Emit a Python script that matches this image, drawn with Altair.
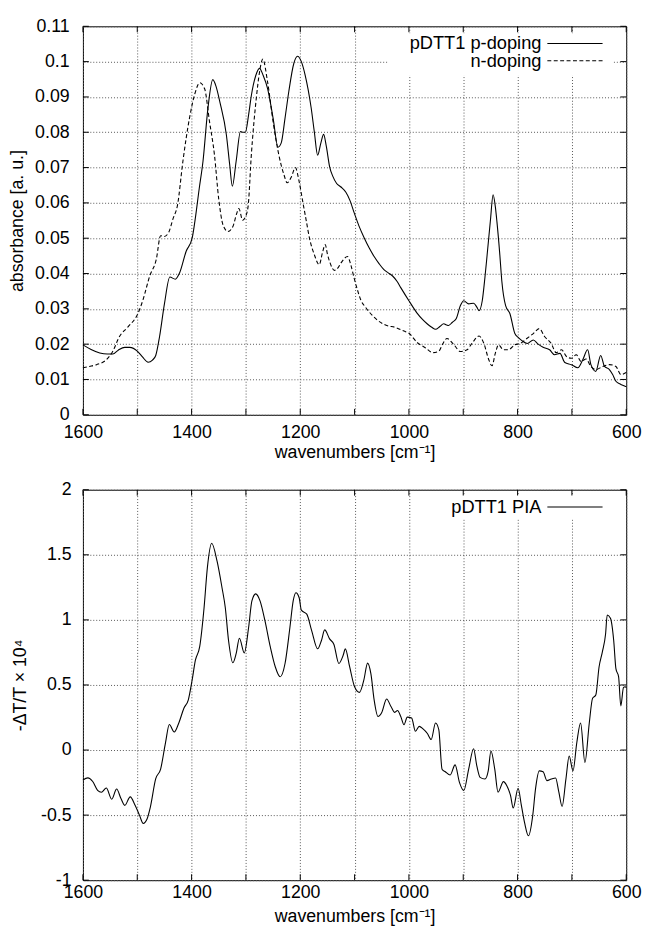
import altair as alt
import pandas as pd

# ---------------- data ----------------
wn_p = [1600, 1585, 1569, 1555, 1545, 1535, 1523, 1514, 1499, 1490, 1480, 1472, 1466, 1459, 1450,
        1440, 1430, 1422, 1410, 1399, 1394, 1386, 1379, 1370, 1361, 1355, 1348, 1336, 1330, 1325,
        1318, 1310, 1305, 1301, 1295, 1290, 1282, 1275, 1268, 1260, 1250, 1241, 1235, 1228, 1221,
        1212, 1205, 1198, 1191, 1180, 1174, 1168, 1162, 1157, 1152, 1146, 1140, 1133, 1125, 1116,
        1108, 1101, 1092, 1082, 1073, 1064, 1055, 1046, 1038, 1030, 1022, 1015, 1000, 985, 975,
        966, 958, 951, 943, 936, 930, 927, 920, 913, 905, 899, 890, 881, 875, 871,
        865, 860, 856, 850, 845, 841, 838, 833, 829, 822, 814, 805, 798, 792, 782,
        771, 762, 753, 741, 732, 722, 713, 701, 689, 680, 671, 665, 656, 647, 640,
        631, 625, 619, 610, 602, 600]
abs_p = [0.0198, 0.0185, 0.0175, 0.0172, 0.0172, 0.0183, 0.0191, 0.0191, 0.0179, 0.0163, 0.0149, 0.0155, 0.0168, 0.0221, 0.0314,
         0.0390, 0.0384, 0.0402, 0.0463, 0.0500, 0.0547, 0.0640, 0.0718, 0.0867, 0.0949, 0.0930, 0.0886, 0.0793, 0.0710, 0.0647,
         0.0718, 0.0802, 0.0800, 0.0800, 0.0850, 0.0904, 0.0960, 0.0981, 0.0960, 0.0923, 0.0840, 0.0758, 0.0770, 0.0840, 0.0916,
         0.0994, 0.1015, 0.1000, 0.0962, 0.0870, 0.0800, 0.0735, 0.0770, 0.0794, 0.0760, 0.0703, 0.0675, 0.0655, 0.0645, 0.0630,
         0.0605, 0.0573, 0.0535, 0.0500, 0.0472, 0.0448, 0.0428, 0.0411, 0.0402, 0.0393, 0.0378, 0.0360, 0.0323, 0.0288, 0.0270,
         0.0257, 0.0248, 0.0242, 0.0250, 0.0258, 0.0254, 0.0253, 0.0262, 0.0272, 0.0310, 0.0323, 0.0314, 0.0316, 0.0305, 0.0295,
         0.0323, 0.0390, 0.0453, 0.0550, 0.0623, 0.0590, 0.0547, 0.0460, 0.0379, 0.0309, 0.0286, 0.0230, 0.0218, 0.0210, 0.0202,
         0.0212, 0.0200, 0.0191, 0.0184, 0.0170, 0.0174, 0.0148, 0.0142, 0.0133, 0.0156, 0.0184, 0.0142, 0.0123, 0.0168, 0.0137,
         0.0128, 0.0114, 0.0095, 0.0086, 0.0081, 0.0080]

wn_n = [1600, 1588, 1575, 1557, 1545, 1533, 1517, 1499, 1490, 1477, 1465, 1457, 1450, 1442, 1434,
        1426, 1416, 1404, 1394, 1385, 1376, 1367, 1358, 1350, 1342, 1333, 1324, 1317, 1313, 1306,
        1301, 1296, 1290, 1281, 1275, 1269, 1260, 1250, 1240, 1230, 1224, 1216, 1209, 1202, 1195,
        1189, 1183, 1174, 1165, 1159, 1154, 1150, 1146, 1137, 1131, 1125, 1113, 1107, 1101, 1095,
        1088, 1080, 1073, 1058, 1043, 1024, 1009, 1000, 985, 970, 956, 945, 938, 930, 917,
        905, 893, 884, 871, 862, 853, 847, 841, 835, 826, 817, 805, 795, 783, 771,
        760, 750, 738, 729, 719, 710, 701, 692, 683, 674, 665, 656, 643, 631, 619,
        610, 601, 600]
abs_n = [0.0133, 0.0137, 0.0142, 0.0156, 0.0180, 0.0221, 0.0249, 0.0286, 0.0323, 0.0393, 0.0440, 0.0507, 0.0505, 0.0517, 0.0556,
         0.0593, 0.0718, 0.0839, 0.0909, 0.0940, 0.0923, 0.0830, 0.0737, 0.0610, 0.0537, 0.0519, 0.0533, 0.0570, 0.0584, 0.0551,
         0.0560, 0.0590, 0.0737, 0.0895, 0.0970, 0.1007, 0.0941, 0.0830, 0.0740, 0.0680, 0.0657, 0.0675, 0.0700, 0.0660, 0.0600,
         0.0550, 0.0500, 0.0453, 0.0425, 0.0460, 0.0482, 0.0455, 0.0434, 0.0409, 0.0415, 0.0430, 0.0448, 0.0425, 0.0388, 0.0355,
         0.0323, 0.0305, 0.0291, 0.0268, 0.0254, 0.0247, 0.0237, 0.0231, 0.0205, 0.0190, 0.0176, 0.0180, 0.0200, 0.0216, 0.0198,
         0.0179, 0.0184, 0.0202, 0.0223, 0.0202, 0.0156, 0.0139, 0.0174, 0.0198, 0.0184, 0.0184, 0.0198, 0.0202, 0.0216, 0.0230,
         0.0244, 0.0221, 0.0202, 0.0176, 0.0184, 0.0165, 0.0160, 0.0170, 0.0151, 0.0158, 0.0137, 0.0128, 0.0137, 0.0142, 0.0137,
         0.0114, 0.0119, 0.0120]

wn_pia = [1600, 1591, 1582, 1573, 1566, 1557, 1547, 1538, 1530, 1523, 1513, 1504, 1496, 1489, 1482,
          1476, 1466, 1457, 1448, 1441, 1432, 1423, 1414, 1406, 1399, 1393, 1385, 1377, 1371, 1363,
          1353, 1344, 1338, 1332, 1324, 1318, 1312, 1303, 1295, 1289, 1282, 1274, 1265, 1255, 1246,
          1237, 1228, 1219, 1213, 1208, 1202, 1198, 1188, 1179, 1168, 1161, 1155, 1146, 1138, 1129,
          1121, 1117, 1109, 1100, 1091, 1083, 1076, 1070, 1064, 1057, 1050, 1041, 1033, 1026, 1021,
          1015, 1009, 1003, 995, 988, 981, 974, 966, 959, 951, 945, 939, 933, 924, 915,
          907, 899, 890, 881, 875, 869, 860, 854, 849, 842, 836, 826, 820, 813, 808,
          799, 793, 787, 780, 772, 767, 760, 753, 746, 738, 730, 724, 718, 711, 705,
          698, 691, 684, 676, 668, 662, 656, 650, 644, 638, 635, 629, 623, 619, 614,
          610, 605, 602, 600]
pia = [-0.230, -0.214, -0.242, -0.310, -0.325, -0.292, -0.378, -0.300, -0.373, -0.425, -0.360, -0.424, -0.500, -0.564, -0.530,
       -0.440, -0.220, -0.146, 0.057, 0.196, 0.138, 0.214, 0.323, 0.386, 0.538, 0.690, 0.796, 1.095, 1.400, 1.589,
       1.449, 1.247, 1.095, 0.842, 0.670, 0.740, 0.859, 0.746, 0.943, 1.146, 1.200, 1.146, 0.994, 0.790, 0.640,
       0.563, 0.665, 0.943, 1.146, 1.209, 1.170, 1.075, 1.044, 0.918, 0.778, 0.842, 0.923, 0.854, 0.811, 0.665,
       0.728, 0.777, 0.638, 0.486, 0.443, 0.537, 0.668, 0.587, 0.385, 0.258, 0.289, 0.392, 0.334, 0.289, 0.304,
       0.258, 0.195, 0.253, 0.246, 0.144, 0.182, 0.162, 0.127, 0.081, 0.208, 0.157, -0.147, -0.167, -0.192, -0.114,
       -0.248, -0.311, -0.147, 0.010, -0.122, -0.210, -0.223, -0.160, -0.008, -0.147, -0.324, -0.243, -0.273, -0.349, -0.446,
       -0.294, -0.425, -0.560, -0.659, -0.500, -0.300, -0.160, -0.167, -0.235, -0.223, -0.215, -0.324, -0.433, -0.223, -0.046,
       -0.160, 0.056, 0.208, -0.096, 0.208, 0.397, 0.423, 0.638, 0.752, 0.891, 1.038, 1.013, 0.840, 0.625, 0.562,
       0.339, 0.481, 0.486, 0.480]

x_ticks = [1600, 1500, 1400, 1300, 1200, 1100, 1000, 900, 800, 700, 600]
y_ticks_top = [0, 0.01, 0.02, 0.03, 0.04, 0.05, 0.06, 0.07, 0.08, 0.09, 0.1, 0.11]
y_ticks_bot = [-1, -0.5, 0, 0.5, 1, 1.5, 2]

legend_top = ["pDTT1 p-doping", "n-doping"]
legend_bot = ["pDTT1 PIA"]

# ---------------- layout / style ----------------
W = 551
H_TOP, H_BOT = 394, 396
FONT = "Liberation Sans"
FS = 18
FS_LEG = 18.5
TICK = 6

df_p = pd.DataFrame({"wn": wn_p, "v": abs_p})
df_n = pd.DataFrame({"wn": wn_n, "v": abs_n})
df_pia = pd.DataFrame({"wn": wn_pia, "v": pia})
df_xt = pd.DataFrame({"wn": x_ticks})
df_yt_top = pd.DataFrame({"v": y_ticks_top})
df_yt_bot = pd.DataFrame({"v": y_ticks_bot})

xscale = alt.Scale(domain=[600, 1600], reverse=True, nice=False, zero=False)


def make_x(lpad, ty):
    def x_enc():
        return alt.X(
            "wn:Q", scale=xscale,
            axis=alt.Axis(values=x_ticks, format="d",
                          labelExpr="datum.value % 200 == 0 ? datum.label : ''",
                          title="wavenumbers [cm⁻¹]", ticks=False, domain=False,
                          labelFlush=False, labelOverlap=False,
                          labelPadding=lpad, titleY=ty, titleBaseline="middle"))
    return x_enc


def make_y(domain, ticks, fmt, title, h, lpad, tx):
    def y_enc():
        return alt.Y(
            "v:Q", scale=alt.Scale(domain=domain, nice=False, zero=False),
            axis=alt.Axis(values=ticks, format=fmt,
                          labelExpr="replace(datum.label, '\u2212', '-')",
                          title=title, ticks=False, domain=False, labelPadding=lpad,
                          labelFlush=False, labelOverlap=False,
                          titleX=tx, titleY=h / 2, titleBaseline="alphabetic"))
    return y_enc


def tick_layers(df_y, x_enc, y_enc, h):
    base_rule = dict(color="black", strokeWidth=1)
    lt = alt.Chart(df_y).mark_rule(**base_rule).encode(y=y_enc(), x=alt.value(0), x2=alt.value(TICK))
    rt = alt.Chart(df_y).mark_rule(**base_rule).encode(y=y_enc(), x=alt.value(W - TICK), x2=alt.value(W))
    bt = alt.Chart(df_xt).mark_rule(**base_rule).encode(x=x_enc(), y=alt.value(h), y2=alt.value(h - TICK))
    tt = alt.Chart(df_xt).mark_rule(**base_rule).encode(x=x_enc(), y=alt.value(0), y2=alt.value(TICK))
    return [lt, rt, bt, tt]


def legend_layers(labels, dashes, box):
    layers = [alt.Chart(pd.DataFrame({"a": [0]})).mark_rect(fill="white").encode(
        x=alt.value(box[0]), x2=alt.value(box[1]), y=alt.value(box[2]), y2=alt.value(box[3]))]
    for i, (lab, dsh) in enumerate(zip(labels, dashes)):
        yy = 17.5 + 17.5 * i
        layers.append(alt.Chart(pd.DataFrame({"t": [lab]})).mark_text(
            align="right", baseline="middle", font=FONT, fontSize=FS_LEG, color="black").encode(
            text="t:N", x=alt.value(465), y=alt.value(yy)))
        rule_kw = dict(color="black", strokeWidth=1.1)
        if dsh:
            rule_kw["strokeDash"] = dsh
        layers.append(alt.Chart(pd.DataFrame({"t": [lab]})).mark_rule(**rule_kw).encode(
            x=alt.value(471), x2=alt.value(527), y=alt.value(yy)))
    return layers


x_top = make_x(9, 38)
x_bot = make_x(4, 37)
y_top = make_y([0, 0.11], y_ticks_top, ".2~f", "absorbance [a. u.]", H_TOP, 14, -61)
y_bot = make_y([-1, 2], y_ticks_bot, ".1~f", "-ΔT/T × 10⁴", H_BOT, 12, -58)

line_p = alt.Chart(df_p).mark_line(color="black", strokeWidth=1.1, interpolate="monotone").encode(
    x=x_top(), y=y_top())
line_n = alt.Chart(df_n).mark_line(color="black", strokeWidth=1.1, interpolate="monotone",
                                   strokeDash=[4, 2.5]).encode(x=x_top(), y=y_top())

top = alt.layer(
    line_p, line_n,
    *tick_layers(df_yt_top, x_top, y_top, H_TOP),
    *legend_layers(legend_top, [None, [4, 2.5]], (309, 538, 7, 50)),
).properties(width=W, height=H_TOP)

line_pia = alt.Chart(df_pia).mark_line(color="black", strokeWidth=1.1, interpolate="monotone").encode(
    x=x_bot(), y=y_bot())

bot = alt.layer(
    line_pia,
    *tick_layers(df_yt_bot, x_bot, y_bot, H_BOT),
    *legend_layers(legend_bot, [None], (357, 538, 6, 30)),
).properties(width=W, height=H_BOT)

chart = alt.vconcat(top, bot, spacing=18).properties(
    padding={"left": 0, "top": 2, "right": 0, "bottom": 0}
).configure_view(stroke="black", strokeWidth=1).configure_axis(
    labelFont=FONT, titleFont=FONT, labelFontSize=FS, titleFontSize=FS,
    labelColor="black", titleColor="black", titleFontWeight="normal",
    gridColor="#555555", gridDash=[1, 2], gridWidth=1, gridOpacity=1,
)

chart.save("out.html", embed_options={"renderer": "svg", "actions": False})
